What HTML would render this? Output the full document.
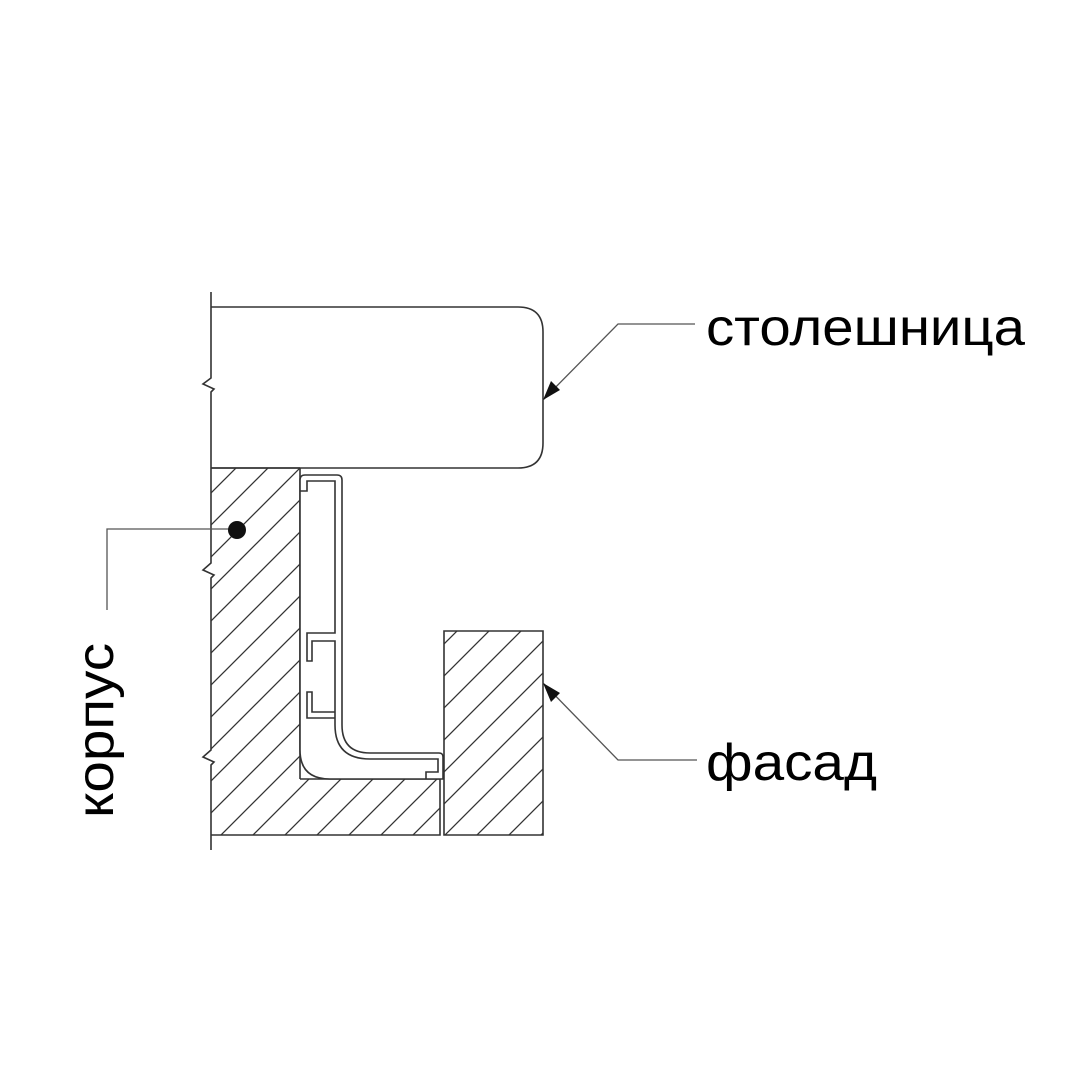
<!DOCTYPE html>
<html><head><meta charset="utf-8"><style>html,body{margin:0;padding:0;background:#fff}svg{display:block}</style></head>
<body>
<svg width="1080" height="1080" viewBox="0 0 1080 1080" xmlns="http://www.w3.org/2000/svg">
<defs>
<pattern id="h" patternUnits="userSpaceOnUse" width="32" height="32">
<path d="M-8,8 L8,-8 M0,32 L32,0 M24,40 L40,24" stroke="#333" stroke-width="1.3"/>
</pattern>
</defs>
<g fill="none" stroke="#333" stroke-width="1.6">
<!-- hatch corpus -->
<path d="M211,468 H300 V779 H440 V835 H211 Z" fill="url(#h)" stroke="none"/>
<path d="M444,631 H543 V835 H444 Z" fill="url(#h)"/>
<!-- corpus outline -->
<path d="M211,468 H300 M300,468 V779 M300,779 H440 V835 H211"/>
<!-- left break line -->
<path d="M211,292 V378 L203,384 L214,389 L211,392 V563 L203,570 L214,575 L211,578 V750 L203,757 L214,762 L211,765 V850"/>
<!-- countertop -->
<path d="M211,307 H518 Q543,307 543,332 V443 Q543,468 518,468 H211"/>
<!-- profile outer -->
<path d="M300,480 Q300,475 305,475 H337 Q342,475 342,480 V725 Q342,753 370,753 H439 Q443,753 443,757 V779 H330 Q300,779 300,750 Z" fill="#fff"/>
<!-- profile inner -->
<path d="M300,491 H307 V481 H335 V633 H307 V661 H312 V641 H335 V718 H307 V692 H312 V712 H335 V725 Q335,759 370,759 H438 V772 H426 V779"/>
<!-- leaders -->
<path d="M543,400 L618,324 H695" stroke="#555" stroke-width="1.3"/>
<path d="M543,683 L618,760 H697" stroke="#555" stroke-width="1.3"/>
<path d="M237,529 H107 V610" stroke="#555" stroke-width="1.3"/>
</g>
<polygon points="543,400 551,381 560,390" fill="#111"/>
<polygon points="543,683 551,702 560,693" fill="#111"/>
<circle cx="237" cy="530" r="9" fill="#111"/>
<g font-family="'Liberation Sans', Arial, sans-serif" fill="#000">
<text x="706" y="345" font-size="52" textLength="319" lengthAdjust="spacingAndGlyphs">столешница</text>
<text x="706" y="780" font-size="52" textLength="171" lengthAdjust="spacingAndGlyphs">фасад</text>
<text transform="translate(113,818) rotate(-90)" font-size="52" textLength="175" lengthAdjust="spacingAndGlyphs">корпус</text>
</g>
</svg>
</body></html>
